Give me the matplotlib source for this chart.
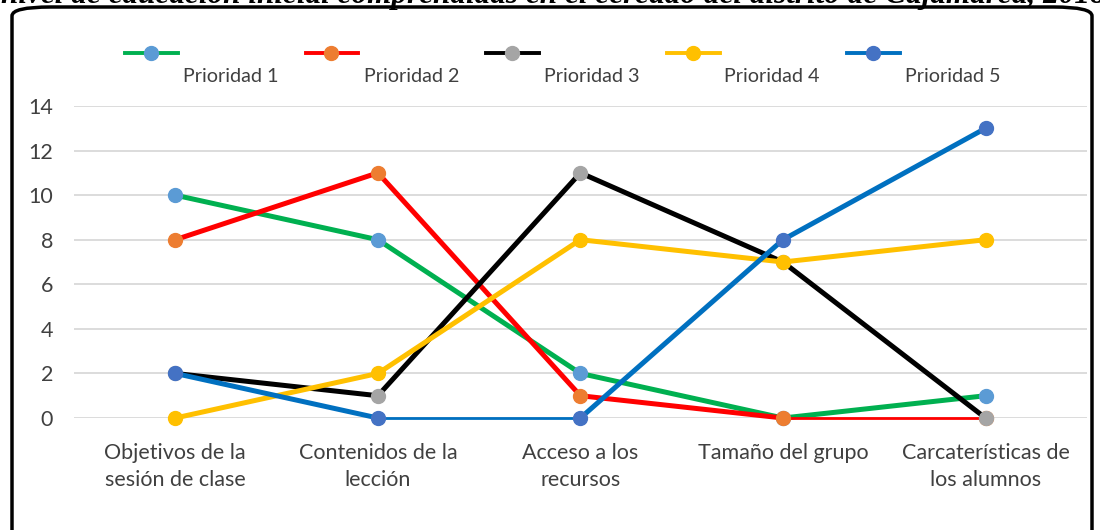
import matplotlib
matplotlib.use("Agg")
import matplotlib.pyplot as plt
from matplotlib.lines import Line2D
from matplotlib.patches import FancyBboxPatch

plt.rcParams['font.family'] = ['Lato', 'DejaVu Sans']

# datos
categorias = ["Objetivos de la\nsesión de clase", "Contenidos de la\nlección",
              "Acceso a los\nrecursos", "Tamaño del grupo",
              "Carcaterísticas de\nlos alumnos"]
series = ["Prioridad 1", "Prioridad 2", "Prioridad 3", "Prioridad 4", "Prioridad 5"]
prioridad_1 = [10, 8, 2, 0, 1]
prioridad_2 = [8, 11, 1, 0, 0]
prioridad_3 = [2, 1, 11, 7, 0]
prioridad_4 = [0, 2, 8, 7, 8]
prioridad_5 = [2, 0, 0, 8, 13]
valores = [prioridad_1, prioridad_2, prioridad_3, prioridad_4, prioridad_5]

color_linea = ['#00B050', '#FF0000', '#000000', '#FFC000', '#0070C0']
color_marca = ['#5B9BD5', '#ED7D31', '#A5A5A5', '#FFC000', '#4472C4']

fig = plt.figure(figsize=(11, 5.3), dpi=100)
fig.patch.set_facecolor('white')
ax = fig.add_axes([0.0673, 0.2113, 0.9207, 0.5887])

x = list(range(len(categorias)))
for k, ys in enumerate(valores):
    for i in range(len(x) - 1):
        plano = ys[i] == ys[i + 1]
        ax.plot(x[i:i + 2], ys[i:i + 2], color=color_linea[k],
                lw=2.0 if plano else 3.6, solid_capstyle='round',
                zorder=3 + k, clip_on=False)
    ax.plot(x, ys, ls='none', marker='o', ms=10, mfc=color_marca[k],
            mec=color_marca[k], zorder=3.5 + k, clip_on=False)

ax.set_xlim(-0.5, 4.5)
ax.set_ylim(0, 14)
ax.set_yticks(range(0, 15, 2))
ax.set_xticks(x)
ax.set_xticklabels(categorias, fontsize=15.5, color='#404040', linespacing=1.45)
ax.tick_params(axis='y', labelsize=15.5, labelcolor='#404040', length=0, pad=15)
ax.tick_params(axis='x', length=0, pad=18)
ax.grid(axis='y', color='#D9D9D9', lw=1.3)
ax.set_axisbelow(True)
for s in ax.spines.values():
    s.set_visible(False)

# leyenda al estilo Excel: linea arriba, texto abajo
x0 = 125 / 1100
paso = 180.5 / 1100
for k, nombre in enumerate(series):
    xs = x0 + k * paso
    fig.add_artist(Line2D([xs, xs + 53 / 1100], [1 - 53 / 530] * 2,
                          color=color_linea[k], lw=2.8))
    fig.add_artist(Line2D([xs + 26 / 1100], [1 - 53 / 530], marker='o', ms=10,
                          mfc=color_marca[k], mec=color_marca[k]))
    fig.text(xs + 58 / 1100, 1 - 76 / 530, nombre, fontsize=14.2, color='#404040',
             va='center', ha='left')

# marco redondeado
marco = FancyBboxPatch((12 / 1100, -0.2), 1080 / 1100, 1.2 - 7 / 530,
                       boxstyle="round,pad=0,rounding_size=0.035",
                       transform=fig.transFigure, fill=False, ec='black', lw=2.5,
                       mutation_aspect=530 / 1100)
fig.add_artist(marco)

# titulo cortado arriba
fig.text(0.503, 1 - 3 / 530, "nivel de educación inicial comprendidas en el cercado del distrito de Cajamarca, 2018",
         family='Liberation Serif', fontsize=22.5, weight='bold', style='italic',
         ha='center', va='baseline')

fig.savefig('out.png', dpi=100, facecolor='white')
